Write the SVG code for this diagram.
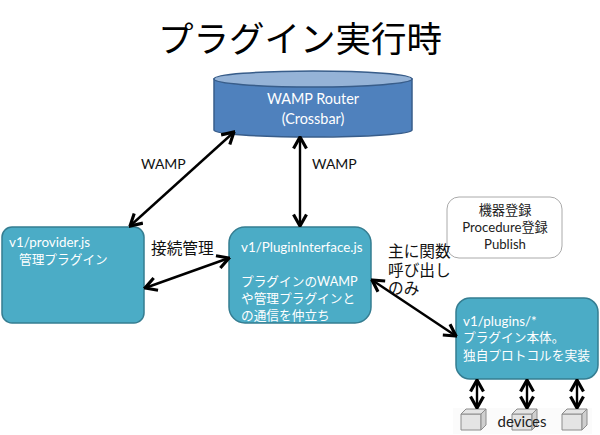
<svg xmlns="http://www.w3.org/2000/svg" width="600" height="435" viewBox="0 0 600 435">
<style>
text{font-family:"Lato","Noto Sans CJK JP",sans-serif;}
.w{fill:#fff;font-size:12.7px;}
.l{fill:#fff;font-size:13.4px;}
.k{fill:#111;font-size:15.7px;}
.s{fill:#111;font-size:14px;}
.r{fill:#fff;font-size:14.4px;text-anchor:middle;}
.c{text-anchor:middle;}
.n{fill:#222;font-size:13.2px;text-anchor:middle;}
.box{fill:#4bacc6;stroke:#357d91;stroke-width:1.5;}
.cube{fill:#e4e4e4;stroke:#8c8c8c;stroke-width:1;}
.cube2{fill:#cfcfcf;stroke:#8c8c8c;stroke-width:1;}
.con{stroke:#000;stroke-width:2.4;fill:none;marker-start:url(#a);marker-end:url(#a);}
</style>
<defs>
<marker id="a" viewBox="0 0 10 10" refX="9" refY="5" markerWidth="6" markerHeight="6.6" orient="auto-start-reverse"><path d="M1 0.5L9 5L1 9.5" fill="none" stroke="#000" stroke-width="2.2"/></marker>
</defs>
<rect width="600" height="435" fill="#fff"/>
<text x="300" y="52" class="c" font-size="35.5" fill="#000">プラグイン実行時</text>
<g id="devices">
<rect x="453" y="408" width="139" height="26" fill="#fbfbfb"/>
<g id="device1"><path class="cube" d="M461 414h20v16h-20z"/><path class="cube" d="M461 414l5-5h20l-5 5z"/><path class="cube2" d="M481 414l5-5v16l-5 5z"/></g>
<g id="device2"><path class="cube" d="M512 414h20v16h-20z"/><path class="cube" d="M512 414l5-5h20l-5 5z"/><path class="cube2" d="M532 414l5-5v16l-5 5z"/></g>
<g id="device3"><path class="cube" d="M562 414h20v16h-20z"/><path class="cube" d="M562 414l5-5h20l-5 5z"/><path class="cube2" d="M582 414l5-5v16l-5 5z"/></g>
<text x="522" y="427" class="c" font-size="15" fill="#222">devices</text>
</g>
<g id="router">
<path d="M214 79v51c0 4 44 7 99 7s99-3 99-7V79z" fill="#4f81bd" stroke="#385d8a" stroke-width="1.5"/>
<ellipse cx="313" cy="79" rx="99" ry="8" fill="#95b3d7" stroke="#385d8a" stroke-width="1.5"/>
<text x="313" y="104" class="r">WAMP Router</text>
<text x="313" y="124" class="r">(Crossbar)</text>
</g>
<g id="provider">
<rect class="box" x="2" y="227" width="142" height="96" rx="10"/>
<text x="9" y="247" class="l">v1/provider.js</text>
<text x="19" y="264" class="w">管理プラグイン</text>
</g>
<g id="pluginInterface">
<rect class="box" x="229" y="227" width="142" height="96" rx="16"/>
<text x="241" y="252" class="l">v1/PluginInterface.js</text>
<text x="241" y="286" class="w">プラグインのWAMP</text>
<text x="241" y="303" class="w">や管理プラグインと</text>
<text x="241" y="320" class="w">の通信を仲立ち</text>
</g>
<g id="plugins">
<rect class="box" x="456" y="298" width="142" height="81" rx="14"/>
<text x="463" y="326" class="l">v1/plugins/*</text>
<text x="463" y="342" class="w">プラグイン本体。</text>
<text x="463" y="360" class="w">独自プロトコルを実装</text>
</g>
<g id="note">
<rect x="447" y="197" width="115" height="61" rx="12" fill="#fff" stroke="#aaa" stroke-width="1"/>
<text x="505" y="215" class="n">機器登録</text>
<text x="505" y="232" class="n">Procedure登録</text>
<text x="505" y="249" class="n">Publish</text>
</g>
<g id="connectors">
<line class="con" x1="130" y1="226" x2="234" y2="132"/>
<line class="con" x1="300" y1="226" x2="300" y2="137"/>
<line class="con" x1="145" y1="288" x2="229" y2="258"/>
<line class="con" x1="372" y1="280" x2="456" y2="336"/>
<line class="con" x1="477" y1="380" x2="477" y2="408"/>
<line class="con" x1="527" y1="380" x2="527" y2="408"/>
<line class="con" x1="577" y1="380" x2="577" y2="408"/>
</g>
<g id="labels">
<text x="141" y="169" class="s">WAMP</text>
<text x="312" y="169" class="s">WAMP</text>
<text x="151" y="254" class="k">接続管理</text>
<text x="388" y="257" class="k">主に関数</text>
<text x="388" y="276" class="k">呼び出し</text>
<text x="388" y="294" class="k">のみ</text>
</g>
</svg>
